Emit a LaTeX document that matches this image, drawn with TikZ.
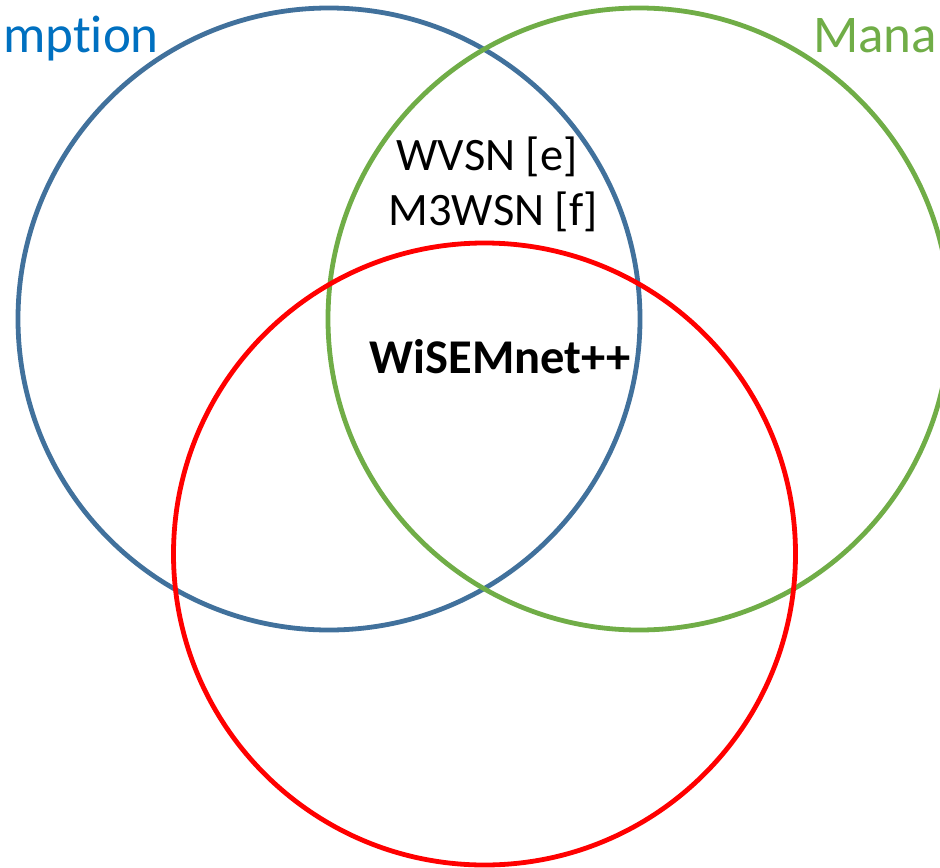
\documentclass[tikz,border=0pt]{standalone}
\usepackage{fontspec}
\setmainfont[Ligatures={TeX,NoCommon}]{Carlito}
\definecolor{setblue}{HTML}{41719C}
\definecolor{labelblue}{HTML}{0070C0}
\definecolor{setgreen}{HTML}{70AD47}
\definecolor{setred}{HTML}{FF0000}
\begin{document}
\begin{tikzpicture}[x=1bp,y=-1bp,
  setring/.style={circle, minimum size=622bp, inner sep=0pt, outer sep=0pt, line width=4.8bp},
  label/.style={anchor=base, inner sep=0pt, font=\fontsize{46.5bp}{50bp}\selectfont},
  title/.style={anchor=base west, inner sep=0pt, font=\fontsize{53bp}{56bp}\selectfont}]
  \useasboundingbox (0,0) rectangle (940,868);
  \clip (0,0) rectangle (940,868);
  % the three overlapping sets
  \node (blueset)  [setring, draw=setblue]  at (329,319) {};
  \node (greenset) [setring, draw=setgreen] at (639,319) {};
  \node (redset)   [setring, draw=setred]   at (484.5,554) {};
  % set titles, running off the edges
  \node (bluetitle)  [title, text=labelblue] at (3,52) {mption};
  \node (greentitle) [title, text=setgreen] at (813,52) {Mana};
  % contents of the intersections
  \node (wvsn)  [label] at (487,170) {WVSN [e]};
  \node (m3wsn) [label] at (493,225) {M3WSN [f]};
  \node (wise)  [label, font=\fontsize{48.5bp}{52bp}\selectfont\bfseries] at (500,373) {WiSEMnet++};
\end{tikzpicture}
\end{document}
